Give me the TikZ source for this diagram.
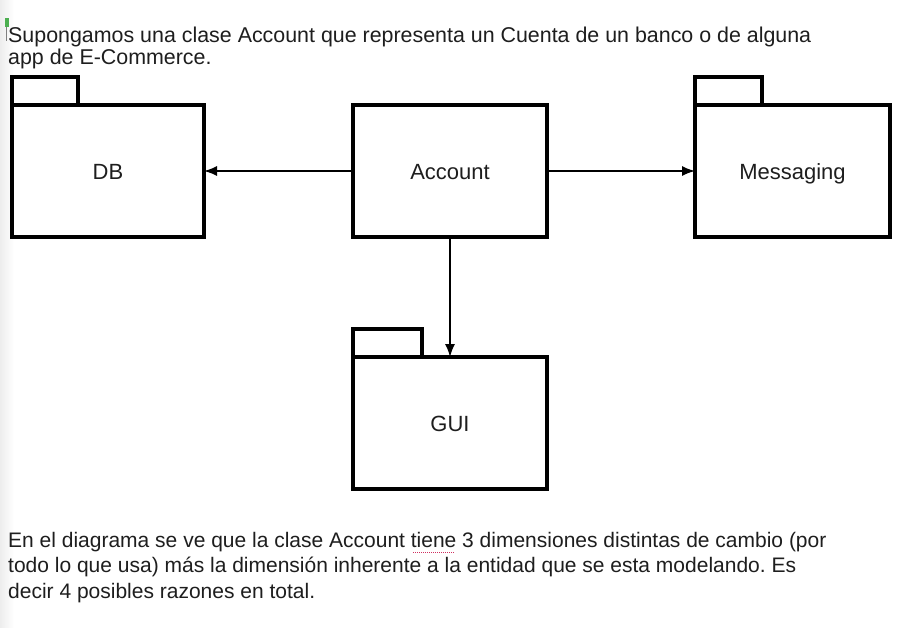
\documentclass[tikz,border=0pt]{standalone}
\usepackage{fontspec}
\setmainfont{Liberation Sans}
\usepackage{xcolor}
\usepackage{tikz}
\usetikzlibrary{arrows.meta,calc}
\definecolor{txtgray}{HTML}{1E1E1E}
\definecolor{cursorgreen}{HTML}{4CAF50}
\definecolor{spellred}{HTML}{D03060}
\frenchspacing
\begin{document}
\begin{tikzpicture}[x=1pt,y=-1pt,
	pkg/.style={draw,line width=4pt,outer sep=0pt,inner sep=0pt,minimum height=132pt,text height=16pt,text depth=0pt,font=\fontsize{22}{26}\selectfont,text=txtgray},
	pkgtab/.style={draw,line width=4pt},
	dep/.style={line width=1.5pt,-{Latex[length=13pt,width=10pt]}},
	para/.style={anchor=base west,align=left,inner sep=0pt,text=txtgray}]
	\useasboundingbox (0,0) rectangle (901,627);
	\fill[white] (0,0) rectangle (901,627);
	\shade[left color=black!7,right color=white] (0,0) rectangle (14,627);
	\fill[cursorgreen] (5,18) rectangle (8.5,27);
	\draw[gray,line width=0.6pt] (6.5,27) -- (6.5,41);
	\node[para,font=\fontsize{21.4}{22}\selectfont] (intro) at (8,64) {Supongamos una clase Account que representa un Cuenta de un banco o de alguna\\app de E-Commerce.};
	\node[pkg,minimum width=192pt] (db) at (108,171) {DB};
	\node[pkg,minimum width=194pt] (account) at (450,171) {Account};
	\node[pkg,minimum width=195pt] (messaging) at (792.5,171) {Messaging};
	\node[pkg,minimum width=194pt] (gui) at (450,423) {GUI};
	\draw[pkgtab] (db.north west) rectangle ++(66,-28);
	\draw[pkgtab] (messaging.north west) rectangle ++(67,-28);
	\draw[pkgtab] (gui.north west) rectangle ++(69,-28);
	\draw[dep] (account) -- (db);
	\draw[dep] (account) -- (messaging);
	\draw[dep] (account) -- (gui);
	\node[para,font=\fontsize{21}{25.5}\selectfont] (summary) at (8,598) {En el diagrama se ve que la clase Account tiene 3 dimensiones distintas de cambio (por\\todo lo que usa) más la dimensión inherente a la entidad que se esta modelando. Es\\decir 4 posibles razones en total.};
	\draw[spellred,line width=1pt,dash pattern=on 1pt off 1pt] (413,552) -- (455,552);
\end{tikzpicture}
\end{document}
